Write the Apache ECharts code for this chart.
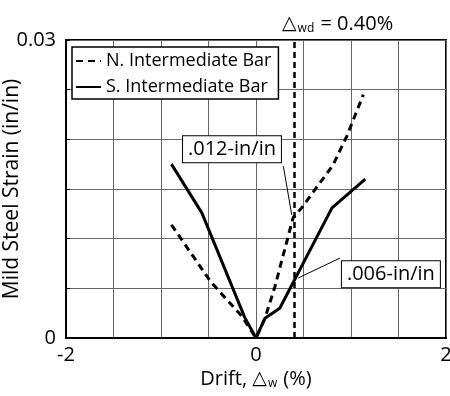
<!DOCTYPE html>
<html><head><meta charset="utf-8">
<script src="https://cdn.jsdelivr.net/npm/echarts@6/dist/echarts.min.js"></script>
<style>html,body{margin:0;padding:0;background:#fff}#c{width:450px;height:396px}</style>
</head><body><div id="c"></div>
<script>
var FONT = '"Open Sans", "Liberation Sans", sans-serif';
// Series data: [drift %, strain in/in]
var northBar = [[-0.89, 0.0114], [-0.48, 0.0057], [-0.15, 0.0022], [0, 0], [0.095, 0.0020], [0.2, 0.0052], [0.39, 0.0121], [0.48, 0.0131], [0.81, 0.0174], [0.955, 0.0203], [1.13, 0.0245]];
var southBar = [[-0.89, 0.0175], [-0.57, 0.0126], [-0.12, 0.0021], [0, 0], [0.095, 0.0020], [0.25, 0.0030], [0.80, 0.0131], [1.15, 0.0160]];
var seriesNames = ['N. Intermediate Bar', 'S. Intermediate Bar'];
var xTickLabels = {'-2': '-2', '0': '0', '2': '2'};
var yTickLabels = {'0': '0', '0.03': '0.03'};
var designDrift = 0.40;
var annot012 = {text: '.012-in/in', at: [-0.253, 0.0190], from: [0.376, 0.0124], to: [0.288, 0.0173]};
var annot006 = {text: '.006-in/in', at: [1.42, 0.00642], from: [0.445, 0.00604], to: [0.884, 0.00805]};

function boxLabel(a) {
  return {
    coord: a.at, symbol: 'rect', symbolSize: 0,
    label: {show: true, position: 'inside', formatter: a.text, color: '#000',
      fontFamily: FONT, fontSize: 20, backgroundColor: '#fff', borderColor: '#000',
      borderWidth: 1, padding: [4, 5, 2, 5]}
  };
}
var deltaRich = {
  d: {fontFamily: 'DejaVu Sans', fontSize: 19, color: '#000', fontWeight: 'normal'},
  s: {fontFamily: FONT, fontSize: 12, color: '#000', fontWeight: 'normal', verticalAlign: 'bottom', padding: [9, 1, 0, 1]},
  n: {fontFamily: FONT, fontSize: 20, color: '#000', fontWeight: 'normal'}
};
var chart = echarts.init(document.getElementById('c'));
chart.setOption({
  animation: false,
  backgroundColor: '#fff',
  title: {
    text: '{d|△}{s|wd}{n| = 0.40%}', left: 277, top: 9,
    textStyle: {rich: deltaRich}
  },
  legend: {
    data: seriesNames, orient: 'vertical', left: 72, top: 47,
    itemWidth: 25, itemHeight: 14, itemGap: 8,
    padding: [5, 7, 3, 3],
    itemStyle: {opacity: 0},
    backgroundColor: '#fff', borderColor: '#000', borderWidth: 1.5,
    textStyle: {fontFamily: FONT, fontSize: 18, color: '#000'}
  },
  grid: {left: 66, right: 4, top: 40, bottom: 58, show: true, borderColor: '#000', borderWidth: 2,
    containLabel: false, outerBoundsMode: 'none'},
  xAxis: {
    type: 'value', min: -2, max: 2, interval: 0.5,
    name: 'Drift, {d|△}{s|w}{n| (%)}', nameLocation: 'middle', nameGap: 31, nameMoveOverlap: false,
    nameTextStyle: {fontFamily: FONT, fontSize: 20, color: '#000', rich: deltaRich},
    axisLine: {onZero: false, lineStyle: {color: '#000', width: 2}},
    axisTick: {show: false},
    splitLine: {show: true, lineStyle: {color: '#666', width: 1}},
    axisLabel: {fontFamily: FONT, fontSize: 20, color: '#000', margin: 7, showMaxLabel: true, showMinLabel: true,
      formatter: function (v) { var k = String(Math.round(v * 100) / 100); return xTickLabels[k] || ''; }}
  },
  yAxis: {
    type: 'value', min: 0, max: 0.03, interval: 0.005,
    name: 'Mild Steel Strain (in/in)', nameLocation: 'middle', nameGap: 43, nameMoveOverlap: false,
    nameTextStyle: {fontFamily: FONT, fontSize: 21, color: '#000'},
    axisLine: {show: true, onZero: false, lineStyle: {color: '#000', width: 2}},
    axisTick: {show: true, inside: true, length: 4, lineStyle: {color: '#000'}},
    splitLine: {show: true, lineStyle: {color: '#666', width: 1}},
    axisLabel: {fontFamily: FONT, fontSize: 20, color: '#000', margin: 10,
      formatter: function (v) { var k = String(Math.round(v * 1000) / 1000); return yTickLabels[k] || ''; }}
  },
  series: [
    {
      name: seriesNames[0], type: 'line', data: northBar, symbol: 'none',
      lineStyle: {color: '#000', width: 3, type: [7, 5]}, itemStyle: {color: '#000'},
      markLine: {
        silent: true, symbol: 'none', label: {show: false},
        lineStyle: {color: '#000', width: 2.5, type: [6, 4]},
        data: [
          {xAxis: designDrift},
          [{coord: annot012.from, lineStyle: {type: 'solid', width: 1}}, {coord: annot012.to}],
          [{coord: annot006.from, lineStyle: {type: 'solid', width: 1}}, {coord: annot006.to}]
        ]
      },
      markPoint: {silent: true, data: [boxLabel(annot012), boxLabel(annot006)]}
    },
    {
      name: seriesNames[1], type: 'line', data: southBar, symbol: 'none',
      lineStyle: {color: '#000', width: 3, type: 'solid'}, itemStyle: {color: '#000'}
    }
  ]
});
</script></body></html>
